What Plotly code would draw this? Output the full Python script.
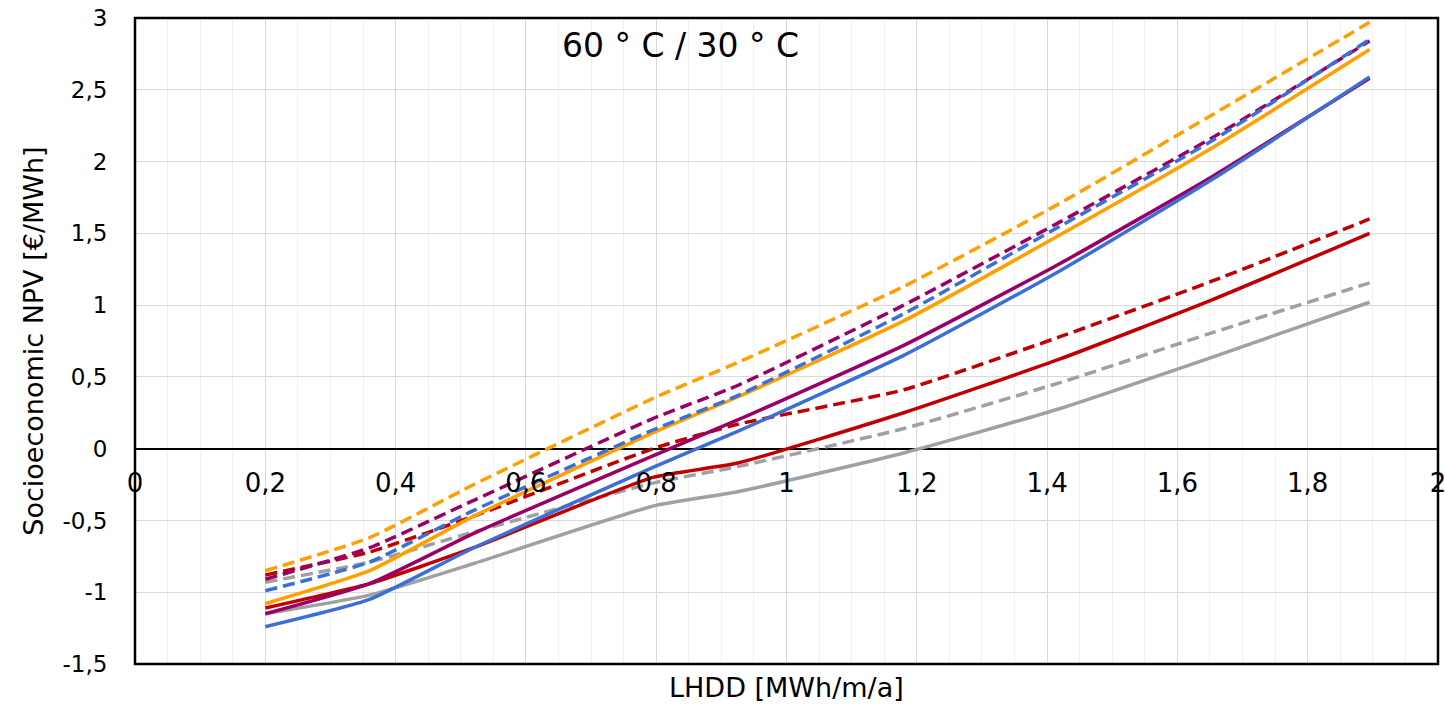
import plotly.graph_objects as go

# LHDD [MWh/m/a]
lhdd = [0.2, 0.36, 0.52, 0.795, 0.925, 1.18, 1.42, 1.655, 1.895]

orange_dashed = [-0.85, -0.62, -0.25, 0.35, 0.60, 1.13, 1.71, 2.33, 2.97]
orange_solid = [-1.08, -0.85, -0.47, 0.11, 0.36, 0.89, 1.49, 2.10, 2.78]
purple_dashed = [-0.91, -0.69, -0.36, 0.21, 0.44, 1.00, 1.58, 2.17, 2.84]
purple_solid = [-1.15, -0.94, -0.59, -0.05, 0.20, 0.72, 1.29, 1.90, 2.58]
blue_dashed = [-0.99, -0.79, -0.43, 0.13, 0.37, 0.94, 1.55, 2.15, 2.85]
blue_solid = [-1.24, -1.05, -0.69, -0.13, 0.12, 0.65, 1.24, 1.88, 2.59]
gray_dashed = [-0.93, -0.79, -0.58, -0.24, -0.125, 0.14, 0.46, 0.81, 1.155]
gray_solid = [-1.15, -1.02, -0.80, -0.40, -0.30, -0.03, 0.28, 0.64, 1.02]
red_dashed = [-0.88, -0.72, -0.47, 0.00, 0.17, 0.41, 0.78, 1.17, 1.60]
red_solid = [-1.11, -0.94, -0.69, -0.20, -0.10, 0.25, 0.625, 1.04, 1.50]

x_ticks = [0, 0.2, 0.4, 0.6, 0.8, 1, 1.2, 1.4, 1.6, 1.8, 2]
x_ticktext = ["0", "0,2", "0,4", "0,6", "0,8", "1", "1,2", "1,4", "1,6", "1,8", "2"]
y_ticks = [-1.5, -1, -0.5, 0, 0.5, 1, 1.5, 2, 2.5, 3]
y_ticktext = ["-1,5", "-1", "-0,5", "0", "0,5", "1", "1,5", "2", "2,5", "3"]

title_text = "60 ° C / 30 ° C"
x_title = "LHDD [MWh/m/a]"
y_title = "Socioeconomic NPV [€/MWh]"

ORANGE = "#FFA000"
PURPLE = "#990066"
BLUE = "#3C6FD6"
GRAY = "#A0A0A0"
RED = "#C00000"
DASH = "12px,6px"

series = [
    (gray_solid, GRAY, "solid"),
    (gray_dashed, GRAY, DASH),
    (red_solid, RED, "solid"),
    (red_dashed, RED, DASH),
    (orange_solid, ORANGE, "solid"),
    (orange_dashed, ORANGE, DASH),
    (purple_solid, PURPLE, "solid"),
    (purple_dashed, PURPLE, DASH),
    (blue_solid, BLUE, "solid"),
    (blue_dashed, BLUE, DASH),
]

fig = go.Figure()
for ys, color, dash in series:
    fig.add_trace(go.Scatter(
        x=lhdd, y=ys, mode="lines",
        line=dict(color=color, width=3.5, dash=dash, shape="spline", smoothing=0.5),
        showlegend=False, hoverinfo="skip",
    ))

FONT = "DejaVu Sans"

fig.update_layout(
    width=1445, height=704,
    margin=dict(l=135, r=7, t=18, b=40, autoexpand=False),
    paper_bgcolor="white", plot_bgcolor="white",
    font=dict(family=FONT, color="black", size=22),
    xaxis=dict(
        range=[0, 2], tickvals=x_ticks, ticktext=x_ticktext,
        anchor="free", position=1/3, automargin=False,
        showline=False, zeroline=False,
        showgrid=True, gridcolor="#D9D9D9", gridwidth=1,
        minor=dict(dtick=0.05, tick0=0, showgrid=True, gridcolor="#F0F0F0", gridwidth=1),
        ticks="outside", ticklen=11, tickcolor="rgba(0,0,0,0)",
        ticklabeloverflow="allow",
        tickfont=dict(family=FONT, size=26, color="black"),
    ),
    yaxis=dict(
        range=[-1.5, 3], tickvals=y_ticks, ticktext=y_ticktext, automargin=False,
        showline=False, zeroline=True, zerolinecolor="black", zerolinewidth=1.5,
        showgrid=True, gridcolor="#D9D9D9", gridwidth=1,
        ticks="outside", ticklen=22, tickcolor="rgba(0,0,0,0)",
        tickfont=dict(family=FONT, size=23, color="black"),
    ),
    shapes=[dict(type="rect", xref="x domain", yref="y domain", x0=0, x1=1, y0=0, y1=1,
                 line=dict(color="black", width=2.5), fillcolor="rgba(0,0,0,0)", layer="above")],
    annotations=[
        dict(text=title_text, xref="paper", yref="paper", x=0.419, y=0.958,
             xanchor="center", yanchor="middle", showarrow=False,
             font=dict(family=FONT, size=33, color="black")),
        dict(text=x_title, xref="paper", yref="paper", x=0.5, y=-0.037,
             xanchor="center", yanchor="middle", showarrow=False,
             font=dict(family=FONT, size=27, color="black")),
        dict(text=y_title, xref="paper", yref="paper", x=-0.0785, y=0.5, textangle=-90,
             xanchor="center", yanchor="middle", showarrow=False,
             font=dict(family=FONT, size=27, color="black")),
    ],
)

fig.write_html("out.html")
